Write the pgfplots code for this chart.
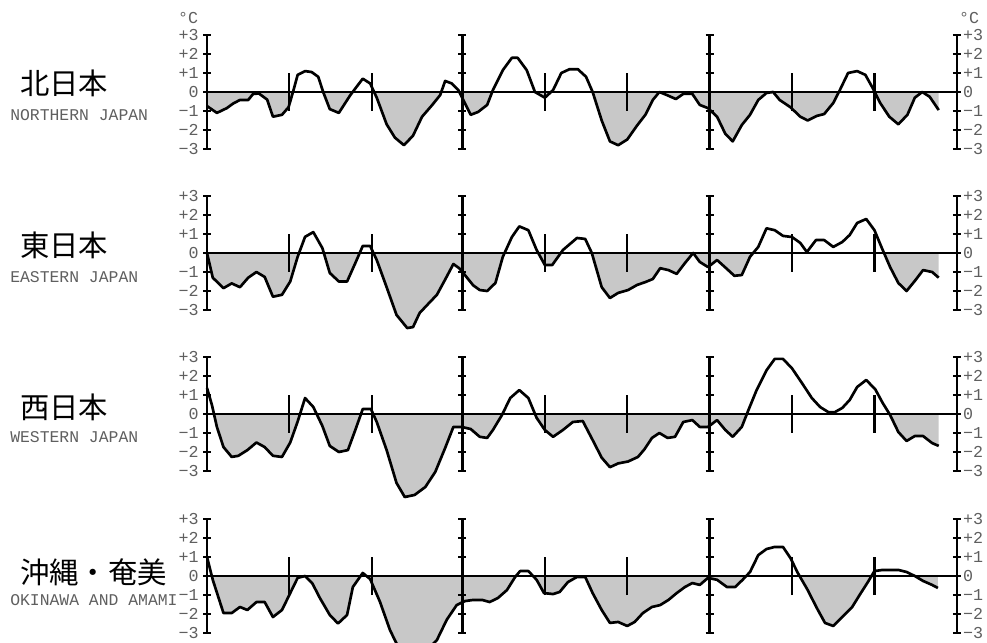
\documentclass[border=0pt]{standalone}
\usepackage{fontspec}
\usepackage{pgfplots}
\pgfplotsset{compat=1.18}
\usepackage{pgfplotstable}
\newfontfamily\cjk{Noto Sans CJK JP}
\newfontfamily\mono{Liberation Mono}
\definecolor{fillgray}{RGB}{200,200,200}
\definecolor{labgray}{RGB}{95,95,95}

\pgfplotstableread{
x y
0 -0.74
1.2 -1.1
2.4 -0.85
3.2 -0.6
4 -0.42
5 -0.42
5.6 -0.1
6.3 -0.08
7.3 -0.4
8 -1.3
9.1 -1.2
9.9 -0.8
10.5 0.1
11 0.9
11.9 1.1
12.7 1.05
13.5 0.8
14.1 0
14.9 -0.9
16 -1.1
17.4 -0.16
18.9 0.7
19.8 0.45
20.6 -0.3
21.8 -1.7
22.8 -2.4
23.9 -2.8
25 -2.3
26.1 -1.3
27.3 -0.7
28.3 -0.16
28.9 0.58
29.7 0.45
30.5 0.1
31.1 -0.42
32 -1.2
32.9 -1.05
34 -0.68
34.7 0.1
35.9 1.15
37 1.8
37.7 1.8
38.8 1.15
39.8 0
41 -0.3
42 0.1
43 1.0
44 1.2
45 1.2
46 0.8
46.8 0
47.9 -1.5
48.9 -2.6
49.9 -2.8
51 -2.5
52.2 -1.76
53.2 -1.2
54.1 -0.42
54.9 0
55.8 -0.16
56.9 -0.37
57.8 -0.1
58.9 -0.1
59.8 -0.68
60.8 -0.85
61.9 -1.3
62.9 -2.2
63.8 -2.6
64.9 -1.74
65.9 -1.2
66.9 -0.42
67.9 -0.05
68.7 0
69.5 -0.42
70.8 -0.8
72 -1.3
72.9 -1.5
74 -1.26
74.9 -1.16
76 -0.58
76.8 0.1
77.8 1.0
78.9 1.1
79.9 0.9
80.8 0.2
81.7 -0.58
82.8 -1.3
83.9 -1.7
85 -1.2
85.9 -0.3
86.8 0
87.7 -0.25
88.8 -0.95
}\dataN

\pgfplotstableread{
x y
0 0
0.7 -1.3
2 -1.85
3 -1.6
4 -1.8
5 -1.3
6 -1.0
7 -1.26
8 -2.3
9.1 -2.2
10.1 -1.5
11 -0.2
11.9 0.85
12.9 1.1
14 0.26
14.9 -1.05
16 -1.5
17 -1.5
18 -0.53
18.9 0.37
19.8 0.37
20.6 -0.37
21.8 -1.8
23 -3.26
24.3 -3.95
25 -3.9
25.8 -3.16
26.8 -2.7
27.9 -2.2
28.9 -1.4
29.9 -0.58
30.6 -0.8
31.3 -1.16
32.3 -1.7
33.1 -1.95
34 -2.0
35 -1.58
35.9 -0.2
37 0.84
37.9 1.4
39 1.2
40 0.16
41 -0.63
41.9 -0.63
43.2 0.16
44.9 0.79
45.9 0.74
46.7 0
47.9 -1.8
48.9 -2.37
49.9 -2.1
51.1 -1.95
52.2 -1.68
53.2 -1.53
54.1 -1.37
55 -0.8
56 -0.9
57 -1.1
58 -0.53
59 0
59.8 -0.47
60.8 -0.74
61.9 -0.37
63 -0.8
64 -1.2
64.9 -1.16
65.9 -0.2
66.9 0.32
67.9 1.3
68.9 1.2
69.9 0.9
71 0.84
72 0.53
72.8 0.05
73.9 0.68
74.9 0.68
76 0.32
77.1 0.58
78 0.95
78.9 1.58
80 1.79
81 1.2
81.9 0.26
82.9 -0.74
83.9 -1.58
84.9 -2.0
85.9 -1.47
86.9 -0.9
88 -1.0
88.8 -1.3
}\dataE

\pgfplotstableread{
x y
0 1.37
0.6 0.47
1.2 -0.68
2 -1.74
3 -2.26
3.8 -2.2
4.9 -1.9
6 -1.5
7 -1.74
8 -2.2
9.1 -2.26
10.1 -1.5
11 -0.4
11.9 0.84
12.9 0.37
14 -0.63
14.9 -1.68
16 -2.0
17.1 -1.9
18 -0.84
18.9 0.26
19.9 0.26
20.6 -0.42
21.8 -1.9
23 -3.63
24 -4.37
25.2 -4.26
26.5 -3.84
27.7 -3.05
28.9 -1.79
29.9 -0.68
30.9 -0.68
32 -0.79
33.1 -1.2
34 -1.26
34.7 -0.84
35.8 -0.05
36.8 0.84
37.9 1.26
39 0.84
40 -0.2
41 -0.84
42 -1.2
43.2 -0.84
44.4 -0.42
45.6 -0.37
46.8 -1.37
47.9 -2.3
48.9 -2.8
49.9 -2.6
51.1 -2.5
52.3 -2.26
53.1 -1.85
54 -1.26
54.9 -1.0
55.9 -1.26
56.8 -1.2
57.8 -0.42
58.9 -0.32
59.8 -0.68
60.8 -0.68
61.9 -0.32
62.9 -0.84
63.8 -1.2
64.9 -0.68
65.7 0.2
66.7 1.26
67.9 2.3
68.9 2.9
69.9 2.9
71 2.4
72.2 1.63
73.4 0.84
74.4 0.37
75.4 0.1
76.2 0.1
77.1 0.32
78 0.74
78.9 1.42
80 1.79
81.1 1.3
82 0.58
82.9 -0.05
83.9 -0.95
84.9 -1.42
85.9 -1.16
86.9 -1.16
88 -1.53
88.8 -1.68
}\dataW

\pgfplotstableread{
x y
0 1.0
0.7 -0.2
2 -1.95
3 -1.95
4 -1.63
4.9 -1.79
6 -1.37
7 -1.37
8 -2.16
9.1 -1.79
10.1 -0.9
11 -0.1
11.9 0
12.8 -0.4
13.7 -1.16
14.9 -2.05
15.9 -2.5
17 -2.05
17.7 -0.58
18.9 0.16
19.8 -0.16
21 -1.37
22.2 -2.84
23.5 -4.0
24.8 -4.5
26.3 -4.1
27.9 -3.37
29.1 -2.3
30.3 -1.53
31.3 -1.32
32.3 -1.26
33.4 -1.26
34.3 -1.37
35.3 -1.16
36.4 -0.74
37.4 -0.05
38 0.26
39 0.26
40 -0.2
40.9 -0.9
42 -0.95
42.8 -0.84
43.8 -0.32
44.9 -0.05
45.9 -0.05
46.8 -0.9
47.9 -1.79
48.9 -2.47
49.9 -2.42
51 -2.63
51.9 -2.42
52.9 -1.95
54 -1.63
55 -1.53
56 -1.26
57 -0.9
58 -0.58
58.9 -0.37
59.8 -0.47
60.8 -0.1
61.9 -0.2
63.1 -0.58
64.1 -0.58
65 -0.2
65.9 0.21
66.9 1.1
67.9 1.42
68.9 1.53
69.9 1.53
70.8 0.95
71.7 0.16
72.9 -0.74
74 -1.68
75 -2.47
76 -2.63
77.1 -2.16
78.3 -1.63
79.2 -1.0
80.2 -0.32
81 0.26
82 0.32
83.9 0.32
84.9 0.21
85.9 0
86.9 -0.26
88 -0.47
88.7 -0.63
}\dataO

\pgfplotsset{
  panel/.style={x=6.18pt, y=14.25pt, xmin=0, xmax=91, ymin=-3, ymax=3,
    hide axis, clip=false, anchor=south west},
  fillpanel/.style={x=6.18pt, y=14.25pt, xmin=0, xmax=91, ymin=-6, ymax=0,
    hide axis, clip=true, anchor=north west},
}
\tikzset{
  lab/.style={font=\mono\fontsize{12.5}{14}\selectfont, text=labgray, inner sep=0pt},
  ttl/.style={font=\cjk\fontsize{22}{24}\selectfont, anchor=west, inner sep=0pt},
  eng/.style={font=\mono\fontsize{12.3}{14}\selectfont, text=labgray, anchor=west, inner sep=0pt},
}

\newcommand\deco{%
  \draw[line width=1.6pt] (axis cs:0,0) -- (axis cs:91,0);
  \pgfplotsinvokeforeach{10,20,41,51,71,81}{\draw[line width=1.6pt] (axis cs:##1,-1) -- (axis cs:##1,1);}
  \pgfplotsinvokeforeach{0,31,61,91}{\draw[line width=2pt] (axis cs:##1,-3) -- (axis cs:##1,3);}
  \pgfplotsinvokeforeach{-3,...,3}{%
    \draw[line width=1.8pt] ([xshift=-3pt]axis cs:0,##1) -- ([xshift=3pt]axis cs:0,##1);
    \draw[line width=1.8pt] ([xshift=-3pt]axis cs:31,##1) -- ([xshift=3pt]axis cs:31,##1);
    \draw[line width=1.8pt] ([xshift=-3pt]axis cs:61,##1) -- ([xshift=3pt]axis cs:61,##1);
    \draw[line width=1.8pt] ([xshift=-3pt]axis cs:91,##1) -- ([xshift=3pt]axis cs:91,##1);}
  \node[lab,anchor=east] at ([xshift=-6pt]axis cs:0,3) {+3};
  \node[lab,anchor=east] at ([xshift=-6pt]axis cs:0,2) {+2};
  \node[lab,anchor=east] at ([xshift=-6pt]axis cs:0,1) {+1};
  \node[lab,anchor=east] at ([xshift=-6pt]axis cs:0,0) {0};
  \node[lab,anchor=east] at ([xshift=-6pt]axis cs:0,-1) {−1};
  \node[lab,anchor=east] at ([xshift=-6pt]axis cs:0,-2) {−2};
  \node[lab,anchor=east] at ([xshift=-6pt]axis cs:0,-3) {−3};
  \node[lab,anchor=west] at ([xshift=4.5pt]axis cs:91,3) {+3};
  \node[lab,anchor=west] at ([xshift=4.5pt]axis cs:91,2) {+2};
  \node[lab,anchor=west] at ([xshift=4.5pt]axis cs:91,1) {+1};
  \node[lab,anchor=west] at ([xshift=4.5pt]axis cs:91,0) {0};
  \node[lab,anchor=west] at ([xshift=4.5pt]axis cs:91,-1) {−1};
  \node[lab,anchor=west] at ([xshift=4.5pt]axis cs:91,-2) {−2};
  \node[lab,anchor=west] at ([xshift=4.5pt]axis cs:91,-3) {−3};
}

% #1 data, #2 bottom (y=-3) position, #3 zero-line position
\newcommand\panel[3]{%
  \begin{axis}[fillpanel, at={(155.25pt,#3)}]
    \addplot[fill=fillgray, draw=none, mark=none] table {#1} \closedcycle;
  \end{axis}
  \begin{axis}[panel, at={(155.25pt,#2)}]
    \deco
    \addplot[line width=2pt, black, line join=round, mark=none] table {#1};
  \end{axis}}

\begin{document}
\begin{tikzpicture}
\panel{\dataN}{369.75pt}{412.5pt}
\panel{\dataE}{249pt}{291.75pt}
\panel{\dataW}{128.25pt}{171pt}
\panel{\dataO}{6.75pt}{49.5pt}

\node[ttl] at (15pt,419.25pt) {北日本};
\node[eng] at (7.5pt,395.25pt) {NORTHERN JAPAN};
\node[ttl] at (15pt,297.75pt) {東日本};
\node[eng] at (7.5pt,273.75pt) {EASTERN JAPAN};
\node[ttl] at (15pt,176.25pt) {西日本};
\node[eng] at (7.5pt,153.75pt) {WESTERN JAPAN};
\node[ttl] at (15pt,52.5pt) {沖縄・奄美};
\node[eng] at (7.5pt,31.5pt) {OKINAWA AND AMAMI};

\node[lab] at (141pt,468pt) {°C};
\node[lab] at (726.75pt,468pt) {°C};

\pgfresetboundingbox
\useasboundingbox (0,0) rectangle (740.25pt,481.5pt);
\end{tikzpicture}
\end{document}
